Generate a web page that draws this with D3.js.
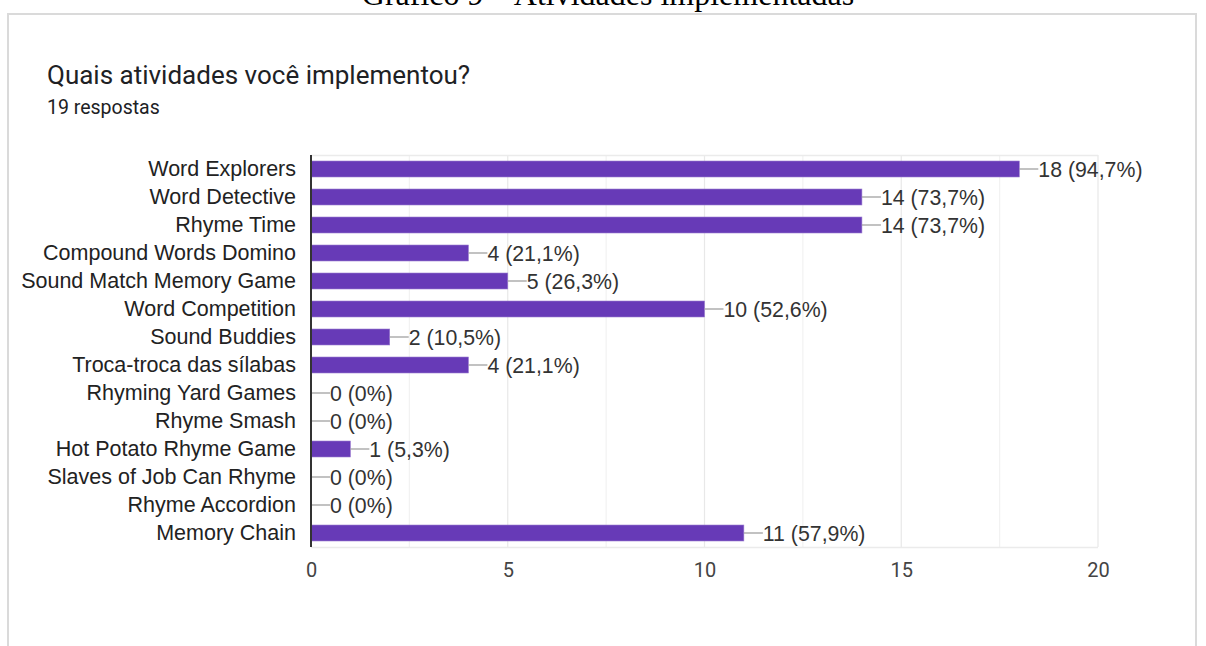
<!DOCTYPE html>
<html><head><meta charset="utf-8">
<script src="https://cdn.jsdelivr.net/npm/d3@7"></script>
<style>body{margin:0;background:#fff;}svg{display:block;}</style>
</head><body>
<svg id="c" width="1206" height="646"></svg>
<script>
const categories = ["Word Explorers","Word Detective","Rhyme Time","Compound Words Domino","Sound Match Memory Game","Word Competition","Sound Buddies","Troca-troca das sílabas","Rhyming Yard Games","Rhyme Smash","Hot Potato Rhyme Game","Slaves of Job Can Rhyme","Rhyme Accordion","Memory Chain"];
const counts = [18,14,14,4,5,10,2,4,0,0,1,0,0,11];
const percentLabels = ["94,7%","73,7%","73,7%","21,1%","26,3%","52,6%","10,5%","21,1%","0%","0%","5,3%","0%","0%","57,9%"];
const xTicks = [0,5,10,15,20];
const gridTicks = [0,2.5,5,7.5,10,12.5,15,17.5,20];

(function(){
const svg = d3.select("#c");
// page caption (cut off at top)
svg.append("text").attr("x",608).attr("y",5).attr("text-anchor","middle")
  .attr("font-family","Liberation Serif").attr("font-size",32)
  .attr("fill","#000").text("Gráfico 9 – Atividades implementadas");
// card border
svg.append("path").attr("d","M8,660 V14 H1196 V660").attr("fill","none").attr("stroke","#dadada").attr("stroke-width",2);

svg.append("text").attr("x",47).attr("y",84).attr("font-family","Roboto").attr("font-size",26)
  .attr("fill","#202124").text("Quais atividades você implementou?");
svg.append("text").attr("x",47).attr("y",114).attr("font-family","Roboto").attr("font-size",19.5)
  .attr("fill","#202124").text("19 respostas");

const pl = 311, pr = 1098, pt = 155, pb = 547;
const x = d3.scaleLinear().domain([0,20]).range([pl,pr]);
const y = d3.scaleBand().domain(categories).range([pt,pb]).paddingInner(0.43).paddingOuter(0.215);

// grid
svg.append("g").selectAll("line").data(gridTicks).join("line")
  .attr("x1",d=>x(d)).attr("x2",d=>x(d)).attr("y1",pt).attr("y2",pb)
  .attr("stroke",d=>d%5===0?"#e8e8e8":"#f2f2f2").attr("stroke-width",1.2);
svg.append("line").attr("x1",pl).attr("x2",pr).attr("y1",pt+0.5).attr("y2",pt+0.5).attr("stroke","#ebebeb").attr("stroke-width",1.5);
svg.append("line").attr("x1",pl).attr("x2",pr).attr("y1",pb+0.5).attr("y2",pb+0.5).attr("stroke","#ebebeb").attr("stroke-width",1.5);

// bars
svg.append("g").selectAll("rect").data(categories).join("rect")
  .attr("x",x(0)).attr("y",d=>y(d)).attr("width",(d,i)=>x(counts[i])-x(0)).attr("height",y.bandwidth())
  .attr("fill","#673ab7").attr("stroke","#9575cd").attr("stroke-width",0.6);

// leaders and value labels
const lab = svg.append("g");
categories.forEach((c,i)=>{
  const xe = x(counts[i]), yc = y(c)+y.bandwidth()/2;
  lab.append("line").attr("x1",xe).attr("x2",xe+19).attr("y1",yc).attr("y2",yc).attr("stroke","#999").attr("stroke-width",1.2);
  lab.append("text").attr("x",xe+19).attr("y",yc).attr("dy","0.36em")
    .attr("font-family","Liberation Sans").attr("font-size",21.3).attr("fill","#333")
    .text(`${counts[i]} (${percentLabels[i]})`);
});

// y axis
const ya = svg.append("g").attr("transform",`translate(${pl},0)`)
  .call(d3.axisLeft(y).tickSize(0).tickPadding(15));
ya.select(".domain").attr("stroke","#333").attr("stroke-width",2).attr("d",`M0,${pt}V${pb}`);
ya.selectAll("text").attr("font-family","Liberation Sans").attr("font-size",21.5).attr("fill","#222");

// x axis
const xa = svg.append("g").attr("transform",`translate(0,${pb})`)
  .call(d3.axisBottom(x).tickValues(xTicks).tickSize(0).tickPadding(16));
xa.select(".domain").remove();
xa.selectAll("text").attr("font-family","Roboto").attr("font-size",20).attr("fill","#444");
})();
</script>
</body></html>
